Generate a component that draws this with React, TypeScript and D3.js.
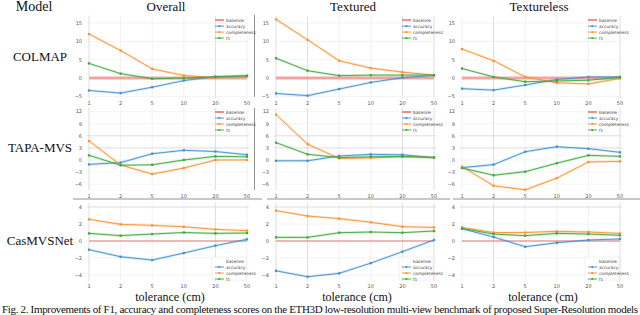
import React from "react";
import * as d3 from "d3";

// ---------- data ----------
const tolerances = ["1", "2", "5", "10", "20", "50"];
const columns = ["Overall", "Textured", "Textureless"];
const models = ["COLMAP", "TAPA-MVS", "CasMVSNet"];
const seriesNames = ["accuracy", "completeness", "f1"];

// COLMAP
const colmapOverallAcc = [-3.4, -4.1, -2.5, -0.7, 0.4, 0.6];
const colmapOverallComp = [12.0, 7.5, 2.5, 0.7, 0.1, 0.4];
const colmapOverallF1 = [4.0, 1.2, -0.2, 0.0, 0.3, 0.6];
const colmapTexturedAcc = [-4.2, -4.8, -3.0, -1.2, 0.1, 0.7];
const colmapTexturedComp = [16.0, 10.4, 4.7, 2.7, 1.6, 0.8];
const colmapTexturedF1 = [5.4, 2.0, 0.65, 0.8, 0.8, 0.8];
const colmapTexturelessAcc = [-2.9, -3.3, -1.9, -0.4, 0.3, 0.3];
const colmapTexturelessComp = [7.9, 4.7, 0.3, -1.3, -1.6, -0.1];
const colmapTexturelessF1 = [2.6, 0.3, -1.0, -0.8, -0.6, 0.2];

// TAPA-MVS
const tapaOverallAcc = [-1.1, -0.65, 1.55, 2.4, 2.1, 1.3];
const tapaOverallComp = [4.7, -1.25, -3.5, -2.0, 0.0, 0.0];
const tapaOverallF1 = [1.15, -1.3, -1.2, 0.0, 0.9, 0.8];
const tapaTexturedAcc = [-0.2, -0.2, 1.0, 1.4, 1.3, 0.6];
const tapaTexturedComp = [11.25, 3.9, 0.4, 0.5, 0.8, 0.6];
const tapaTexturedF1 = [4.3, 1.4, 0.6, 0.8, 0.9, 0.6];
const tapaTexturelessAcc = [-1.9, -1.15, 2.05, 3.3, 2.8, 1.9];
const tapaTexturelessComp = [-1.65, -6.4, -7.4, -4.5, -0.5, -0.35];
const tapaTexturelessF1 = [-2.0, -3.8, -2.9, -0.8, 1.15, 0.9];

// CasMVSNet
const casOverallAcc = [-1.02, -1.85, -2.24, -1.41, -0.55, 0.2];
const casOverallComp = [2.55, 1.96, 1.84, 1.68, 1.37, 1.22];
const casOverallF1 = [0.9, 0.63, 0.82, 1.0, 0.9, 0.94];
const casTexturedAcc = [-3.5, -4.2, -3.8, -2.6, -1.25, 0.12];
const casTexturedComp = [3.57, 2.94, 2.63, 2.2, 1.69, 1.6];
const casTexturedF1 = [0.43, 0.43, 0.98, 1.06, 0.98, 1.18];
const casTexturelessAcc = [1.45, 0.47, -0.67, -0.2, 0.12, 0.24];
const casTexturelessComp = [1.6, 1.0, 1.0, 1.14, 1.06, 0.9];
const casTexturelessF1 = [1.48, 0.82, 0.63, 0.9, 0.82, 0.67];

const row0Ticks = [15, 10, 5, 0, -5];
const row1Ticks = [12, 9, 6, 3, 0, -3, -6];
const row2Ticks = [4, 2, 0, -2, -4];

const captionText =
  "Fig. 2.   Improvements of F1, accuracy and completeness scores on the ETH3D low-resolution multi-view benchmark of proposed Super-Resolution models";

// ---------- layout ----------
const W = 640;
const H = 315;
const colLeft = [89, 276, 462];
const plotW = 158;
const rows = [
  { domain: [-5.5, 17], range: [98.2, 15.7], ticks: row0Ticks, xLabelY: 105, legend: "top", baseW: 3, baseCol: "#f4a3a3", darkY: [] as number[] },
  { domain: [-7.5, 13], range: [190.2, 107.6], ticks: row1Ticks, xLabelY: 198, legend: "top", baseW: 0, baseCol: "#f4a3a3", darkY: [6, 3] },
  { domain: [-4.7, 4.5], range: [281, 202.75], ticks: row2Ticks, xLabelY: 288, legend: "bottom", baseW: 1.1, baseCol: "#e87272", darkY: [4] },
];
const rowLabelY = [61, 152, 245];
const darkX = [["1", "20"], ["1", "2", "20", "50"], ["2", "50"]];

const panelData = [
  [
    [colmapOverallAcc, colmapOverallComp, colmapOverallF1],
    [colmapTexturedAcc, colmapTexturedComp, colmapTexturedF1],
    [colmapTexturelessAcc, colmapTexturelessComp, colmapTexturelessF1],
  ],
  [
    [tapaOverallAcc, tapaOverallComp, tapaOverallF1],
    [tapaTexturedAcc, tapaTexturedComp, tapaTexturedF1],
    [tapaTexturelessAcc, tapaTexturelessComp, tapaTexturelessF1],
  ],
  [
    [casOverallAcc, casOverallComp, casOverallF1],
    [casTexturedAcc, casTexturedComp, casTexturedF1],
    [casTexturelessAcc, casTexturelessComp, casTexturelessF1],
  ],
];

const colors = ["#3f8fd0", "#ff8f2a", "#3aa83a"];
const baseLegendColor = "#f28b8b";
const serif = "Liberation Serif";
const sans = "DejaVu Sans";

function Panel({ r, c }: { r: number; c: number }) {
  const row = rows[r];
  const x = d3.scalePoint<string>().domain(tolerances).range([colLeft[c], colLeft[c] + plotW]);
  const y = d3.scaleLinear().domain(row.domain).range(row.range);
  const line = d3
    .line<number>()
    .x((_, i) => x(tolerances[i]) as number)
    .y((v) => y(v));
  const top = row.range[1];
  const bottom = row.range[0];
  const right = colLeft[c] + plotW;
  const legendEntries = ["baseline", ...seriesNames];
  return (
    <g>
      {tolerances.map((t) => (
        <line
          key={"gx" + t}
          x1={x(t)}
          x2={x(t)}
          y1={top}
          y2={bottom}
          stroke={darkX[c].includes(t) ? "#d4d4d4" : "#ededed"}
          strokeWidth={0.8}
        />
      ))}
      {row.ticks.map((t) => (
        <line
          key={"gy" + t}
          x1={colLeft[c] - 2}
          x2={right + 2}
          y1={y(t)}
          y2={y(t)}
          stroke={row.darkY.includes(t) ? "#d4d4d4" : "#f0f0f0"}
          strokeWidth={0.8}
        />
      ))}
      {row.ticks.map((t) => (
        <text
          key={"ty" + t}
          x={colLeft[c] - 7}
          y={y(t) + 1.8}
          fontSize={5}
          style={{ fontFamily: sans }}
          fill="#555"
          textAnchor="end"
        >
          {t < 0 ? "\u2212" + Math.abs(t) : String(t)}
        </text>
      ))}
      {tolerances.map((t) => (
        <text
          key={"tx" + t}
          x={x(t)}
          y={row.xLabelY}
          fontSize={5}
          style={{ fontFamily: sans }}
          fill="#555"
          textAnchor="middle"
        >
          {t}
        </text>
      ))}
      {row.baseW > 0 && (
        <line x1={colLeft[c]} x2={right} y1={y(0)} y2={y(0)} stroke={row.baseCol} strokeWidth={row.baseW} />
      )}
      {panelData[r][c].map((vals, si) => (
        <g key={"s" + si}>
          <path d={line(vals) || ""} fill="none" stroke={colors[si]} strokeOpacity={0.2} strokeWidth={2.6} />
          <path d={line(vals) || ""} fill="none" stroke={colors[si]} strokeWidth={0.9} />
          {vals.map((v, i) => (
            <rect
              key={i}
              x={(x(tolerances[i]) as number) - 1.1}
              y={y(v) - 1.1}
              width={2.2}
              height={2.2}
              fill={colors[si]}
            />
          ))}
        </g>
      ))}
      {row.legend === "top"
        ? legendEntries.map((name, i) => {
            const ly = top + 4.4 + i * 6;
            const col = i === 0 ? baseLegendColor : colors[i - 1];
            return (
              <g key={"lg" + name}>
                <line x1={right - 32} x2={right - 23} y1={ly} y2={ly} stroke={col} strokeWidth={i === 0 ? 2 : 0.9} />
                {i > 0 && <rect x={right - 28.6} y={ly - 0.9} width={1.8} height={1.8} fill={col} />}
                <text x={right - 21} y={ly + 1.5} fontSize={4.3} style={{ fontFamily: sans }} fill="#444">
                  {name}
                </text>
              </g>
            );
          })
        : (
          <g>
            <rect x={right - 35} y={bottom - 24} width={34} height={23} fill="white" fillOpacity={0.8} stroke="#e4e4e4" strokeWidth={0.5} />
            <text x={right - 21} y={bottom - 18.5} fontSize={4.3} style={{ fontFamily: sans }} fill="#444">
              baseline
            </text>
            {seriesNames.map((name, i) => {
              const ly = bottom - 14 + i * 6;
              return (
                <g key={"lb" + name}>
                  <line x1={right - 32} x2={right - 23} y1={ly} y2={ly} stroke={colors[i]} strokeWidth={0.9} />
                  <rect x={right - 28.6} y={ly - 0.9} width={1.8} height={1.8} fill={colors[i]} />
                  <text x={right - 21} y={ly + 1.5} fontSize={4.3} style={{ fontFamily: sans }} fill="#444">
                    {name}
                  </text>
                </g>
              );
            })}
          </g>
        )}
    </g>
  );
}

export default function App() {
  const serifStyle = { fontFamily: `"${serif}", "Times New Roman", Times, serif` };
  return (
    <svg
      width={W}
      height={H}
      viewBox={`0 0 ${W} ${H}`}
      style={{ position: "absolute", left: 0, top: 0, background: "white" }}
    >
      <rect x={0} y={0} width={W} height={H} fill="white" />
      <text x={34} y={11} fontSize={14} style={serifStyle} textAnchor="middle" fill="#111">
        Model
      </text>
      {columns.map((c, i) => (
        <text key={c} x={colLeft[i] + plotW / 2 - 2} y={11} fontSize={13} style={serifStyle} textAnchor="middle" fill="#111">
          {c}
        </text>
      ))}
      {models.map((m, i) => (
        <text key={m} x={40} y={rowLabelY[i]} fontSize={13} style={serifStyle} textAnchor="middle" fill="#111">
          {m}
        </text>
      ))}
      <line x1={254.5} x2={254.5} y1={15} y2={97} stroke="#777" strokeWidth={0.8} />
      <line x1={254.5} x2={254.5} y1={108} y2={190} stroke="#777" strokeWidth={0.8} />
      <line x1={73} x2={262} y1={199} y2={199} stroke="#777" strokeWidth={0.8} />
      <line x1={267} x2={450} y1={199} y2={199} stroke="#777" strokeWidth={0.8} />
      <line x1={453} x2={640} y1={199} y2={199} stroke="#777" strokeWidth={0.8} />
      {rows.map((_, r) => columns.map((__, c) => <Panel key={r + "-" + c} r={r} c={c} />))}
      {columns.map((c, i) => (
        <text key={"xl" + c} x={colLeft[i] + plotW / 2 + 2} y={301} fontSize={12} style={serifStyle} textAnchor="middle" fill="#111">
          tolerance (cm)
        </text>
      ))}
      <text x={2} y={312.5} fontSize={11} style={serifStyle} fill="#111" textLength={636} lengthAdjust="spacing">
        {captionText}
      </text>
    </svg>
  );
}
